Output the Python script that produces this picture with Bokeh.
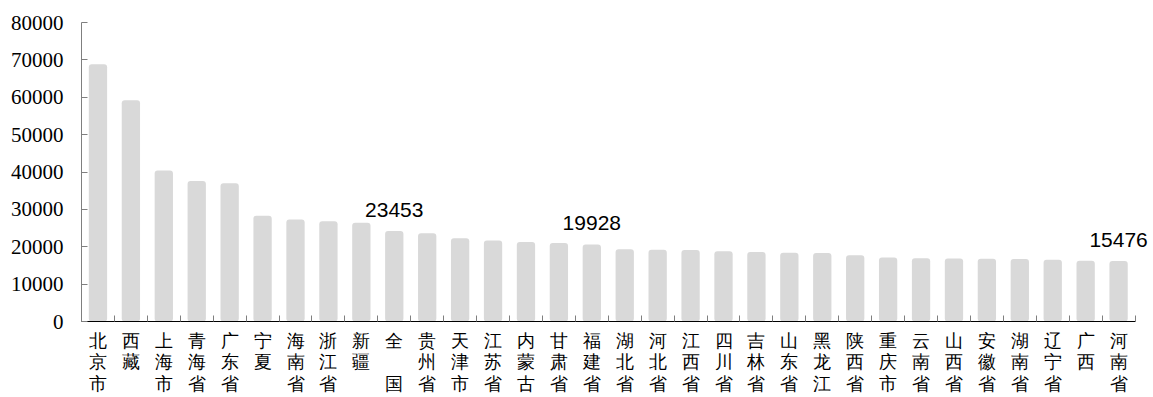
from bokeh.plotting import figure
from bokeh.models import Range1d, FixedTicker, NumeralTickFormatter, ColumnDataSource, LabelSet
from bokeh.core.properties import value
from bokeh.embed import file_html
from bokeh.resources import INLINE

categories = ["北京市", "西藏", "上海市", "青海省", "广东省", "宁夏", "海南省", "浙江省",
              "新疆", "全国", "贵州省", "天津市", "江苏省", "内蒙古", "甘肃省", "福建省",
              "湖北省", "河北省", "江西省", "四川省", "吉林省", "山东省", "黑龙江", "陕西省",
              "重庆市", "云南省", "山西省", "安徽省", "湖南省", "辽宁省", "广西", "河南省"]
values = [68800, 59200, 40400, 37600, 37000, 28300, 27300, 26800,
          26400, 24200, 23600, 22300, 21700, 21300, 21000, 20600,
          19300, 19200, 19150, 18800, 18600, 18400, 18300, 17700,
          17100, 16900, 16850, 16800, 16700, 16500, 16250, 16200]
label_cats = ["全国", "福建省", "河南省"]
label_vals = [23453, 19928, 15476]
y_ticks = [0, 10000, 20000, 30000, 40000, 50000, 60000, 70000, 80000]

n = len(categories)
xs = [i + 0.5 for i in range(n)]


def vertical(name):
    # two-character names: second character pushed to the bottom, as in the source
    if name == "全国":
        return "全\n\n国"
    return "\n".join(name)


p = figure(width=1153, height=397, output_backend="svg", toolbar_location=None,
           x_range=Range1d(0, n + 0.5), y_range=Range1d(0, 80000),
           min_border_left=81, min_border_right=2, min_border_top=22, min_border_bottom=76)
p.outline_line_color = None
p.xgrid.visible = False
p.ygrid.visible = False
p.background_fill_color = "white"
p.border_fill_color = "white"

p.vbar(x=xs, top=values, width=0.556, fill_color="#d9d9d9", line_color=None, border_radius=3)

lsrc = ColumnDataSource(dict(
    x=[categories.index(c) + 0.5 for c in label_cats],
    y=label_vals,
    t=[str(v) for v in label_vals],
))
p.add_layout(LabelSet(x="x", y="y", text="t", source=lsrc, text_align="center",
                      text_baseline="middle", y_offset=24, text_font=value("Liberation Sans"),
                      text_font_size=value("21px"), text_color=value("#000000")))

xa = p.xaxis[0]
xa.bounds = (0, n)
xa.ticker = FixedTicker(ticks=xs, minor_ticks=list(range(n + 1)))
xa.major_label_overrides = {x: vertical(c) for x, c in zip(xs, categories)}
xa.major_tick_in = 0
xa.major_tick_out = 0
xa.minor_tick_in = 6
xa.minor_tick_out = 0
xa.minor_tick_line_color = "#7f7f7f"
xa.axis_line_color = "#000000"
xa.major_label_text_font = "Liberation Sans"
xa.major_label_text_font_size = "18px"
xa.major_label_text_line_height = 1.094
xa.major_label_text_color = "#000000"
xa.major_label_standoff = 9

ya = p.yaxis[0]
ya.ticker = FixedTicker(ticks=y_ticks)
ya.formatter = NumeralTickFormatter(format="0")
ya.major_tick_in = 6
ya.major_tick_out = 0
ya.minor_tick_in = 0
ya.minor_tick_out = 0
ya.axis_line_color = "#7f7f7f"
ya.major_tick_line_color = "#7f7f7f"
ya.major_label_text_font = "Times New Roman"
ya.major_label_text_font_size = "21px"
ya.major_label_text_color = "#000000"
ya.major_label_standoff = 18

open("out.html", "w").write(file_html(p, INLINE))
